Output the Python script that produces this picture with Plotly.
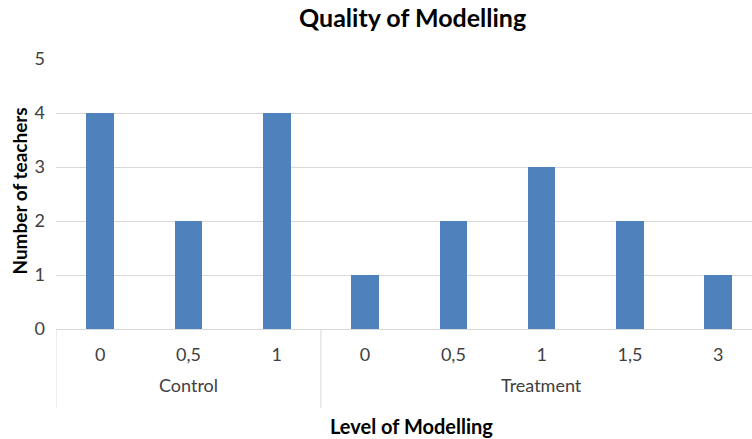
import plotly.graph_objects as go

groups = ["Control", "Control", "Control", "Treatment", "Treatment", "Treatment", "Treatment", "Treatment"]
levels = ["0", "0,5", "1", "0", "0,5", "1", "1,5", "3"]
counts = [4, 2, 4, 1, 2, 3, 2, 1]

W, H = 752, 439
L, R, T, B = 56.4, 0, 59, 110
xmax = 7.382
xpos = list(range(len(levels)))
plot_w = W - L - R
plot_h = H - T - B

font = "Lato, 'Open Sans', sans-serif"
fig = go.Figure()
fig.add_trace(go.Bar(x=xpos, y=counts, width=0.313, marker=dict(color="#4f81bd", line=dict(width=0)),
                     hoverinfo="y"))

shapes = []
annotations = []
uniq = []
for g in groups:
    if g not in uniq:
        uniq.append(g)
start = 0
bounds = [-0.5]
for g in uniq:
    n = groups.count(g)
    mid = start + (n - 1) / 2
    annotations.append(dict(x=mid, xref="x", y=-56 / plot_h, yref="paper", text=g, yanchor="middle",
                            showarrow=False, font=dict(family=font, size=18, color="#404040")))
    start += n
    bounds.append(start - 0.5)
for b in bounds:
    shapes.append(dict(type="line", xref="x", yref="paper", x0=b, x1=b, y0=0, y1=-79 / plot_h,
                       line=dict(color="#d9d9d9", width=1)))

annotations.append(dict(x=(413 - L) / plot_w, xref="paper", y=1 + 42 / plot_h, yref="paper",
                        text="<b>Quality of Modelling</b>", showarrow=False, yanchor="middle",
                        font=dict(family=font, size=25, color="#000000")))
annotations.append(dict(x=(412 - L) / plot_w, xref="paper", y=-97 / plot_h, yref="paper",
                        text="<b>Level of Modelling</b>", showarrow=False, yanchor="middle",
                        font=dict(family=font, size=20, color="#000000")))
annotations.append(dict(x=(19 - L) / plot_w, xref="paper", y=(329 - 191) / plot_h, yref="paper",
                        text="<b>Number of teachers</b>", showarrow=False, textangle=-90,
                        xanchor="center", yanchor="middle",
                        font=dict(family=font, size=19, color="#000000")))

fig.update_layout(
    width=W, height=H,
    margin=dict(l=L, r=R, t=T, b=B, pad=0),
    plot_bgcolor="white", paper_bgcolor="white",
    showlegend=False,
    shapes=shapes,
    annotations=annotations,
    xaxis=dict(range=[-0.5, xmax], tickvals=xpos, ticktext=levels, showgrid=False,
               showline=True, linecolor="#d9d9d9", linewidth=1, ticks="",
               tickfont=dict(family=font, size=18, color="#404040"), ticklabelstandoff=9,
               zeroline=False, fixedrange=True),
    yaxis=dict(range=[0, 5], dtick=1, showgrid=True, gridcolor="#d9d9d9", gridwidth=1,
               zeroline=False, showline=False, ticks="",
               tickfont=dict(family=font, size=18, color="#404040"), ticklabelstandoff=10,
               fixedrange=True),
    bargap=0,
)

fig.write_html("out.html", config={"displayModeBar": False},
               post_script="document.body.style.margin='0';document.body.style.overflow='hidden';")
